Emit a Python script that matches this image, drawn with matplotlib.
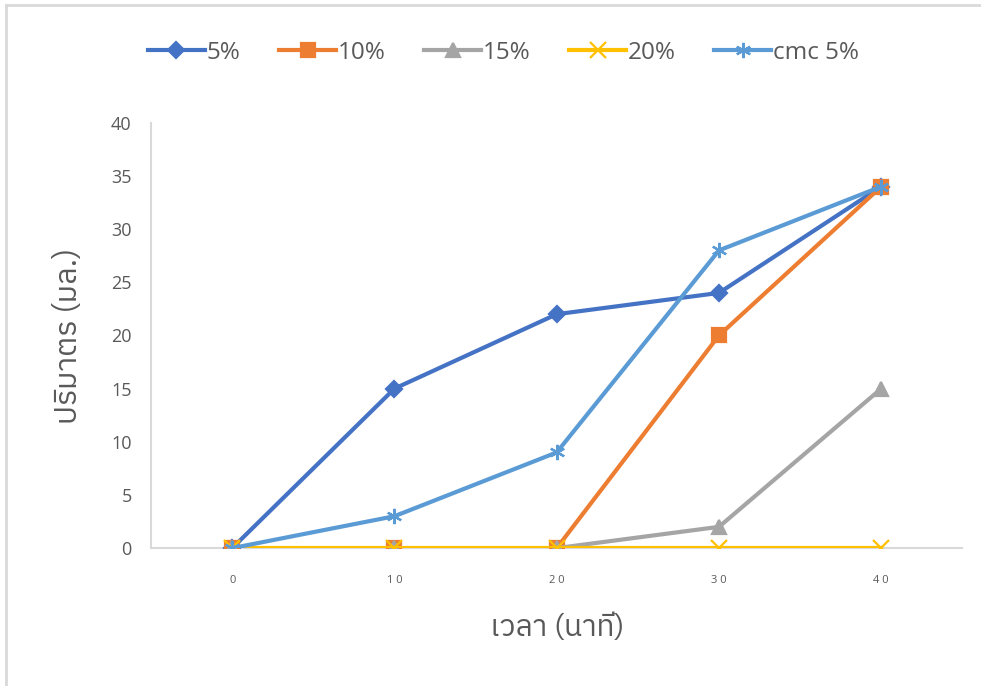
import matplotlib
matplotlib.use("Agg")
import matplotlib.pyplot as plt
from matplotlib import font_manager
from matplotlib.lines import Line2D

times = ["0", "1 0", "2 0", "3 0", "4 0"]
s5 = [0, 15, 22, 24, 34]
s10 = [0, 0, 0, 20, 34]
s15 = [0, 0, 0, 2, 15]
s20 = [0, 0, 0, 0, 0]
cmc5 = [0, 3, 9, 28, 34]
names = ["5%", "10%", "15%", "20%", "cmc 5%"]

# pick a Thai font (loopless style, close to Leelawadee)
thai = "DejaVu Sans"
for want in ["IBMPlexSansThai-Regular", "Sarabun-Regular", "Niramit-Regular"]:
    hits = [p for p in font_manager.findSystemFonts() if want in p]
    if hits:
        font_manager.fontManager.addfont(hits[0])
        thai = font_manager.FontProperties(fname=hits[0]).get_name()
        break

plt.rcParams["font.family"] = ["Open Sans", thai, "DejaVu Sans"]

grey = "#595959"
fig = plt.figure(figsize=(9.81, 6.86), dpi=100)
ax = fig.add_axes([0.154, 0.201, 0.827, 0.62])

x = list(range(len(times)))
star = (6, 2, 0)
styles = [
    (s5, "#4472c4", "D", 8),
    (s10, "#ed7d31", "s", 10),
    (s15, "#a5a5a5", "^", 10),
    (s20, "#ffc000", "x", 11),
    (cmc5, "#5b9bd5", star, 11),
]
for (vals, col, mk, ms), name in zip(styles, names):
    ax.plot(x, vals, color=col, lw=3, marker=mk, ms=ms, mfc=col, mec=col,
            mew=1.6, label=name, zorder=3)

ax.set_xlim(-0.5, 4.5)
ax.set_ylim(0, 40)
ax.set_yticks(range(0, 41, 5))
ax.set_xticks(x)
ax.set_xticklabels(times, fontsize=8, color=grey)
ax.tick_params(axis="y", labelsize=13, labelcolor=grey, length=0, pad=14)
ax.tick_params(axis="x", length=0, pad=19)
for s in ["top", "right"]:
    ax.spines[s].set_visible(False)
for s in ["left", "bottom"]:
    ax.spines[s].set_color("#d9d9d9")
    ax.spines[s].set_linewidth(1.5)

ax.set_xlabel("เวลา (นาที)", fontsize=21.5, color=grey, labelpad=20,
              family=[thai])
ax.set_ylabel("ปริมาตร (มล.)", fontsize=22, color=grey, labelpad=20,
              family=[thai])

handles = []
for (vals, col, mk, ms), name in zip(styles, names):
    handles.append(Line2D([], [], color=col, lw=3, marker=mk, ms=ms,
                          mfc=col, mec=col, mew=1.6, label=name))
fig.legend(handles=handles, loc="center", bbox_to_anchor=(0.513, 0.923),
           ncol=5, frameon=False, fontsize=17.5, labelcolor=grey,
           handlelength=2.35, handletextpad=0.05, columnspacing=1.6)

# outer frame (top and left edge only)
fig.add_artist(Line2D([0.0066, 1.0], [0.9925, 0.9925], color="#d9d9d9", lw=2))
fig.add_artist(Line2D([0.0066, 0.0066], [0.0, 0.9925], color="#d9d9d9", lw=2))

fig.savefig("out.png", dpi=100)
